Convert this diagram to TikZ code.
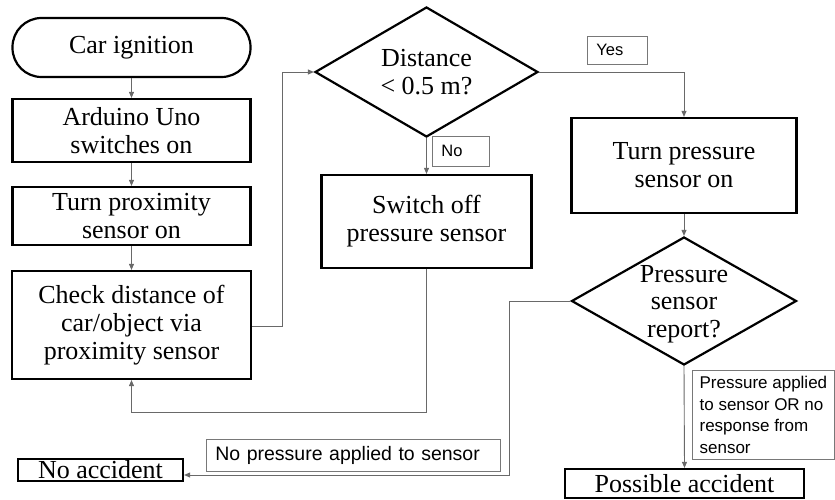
\documentclass[tikz,border=0pt]{standalone}
\usepackage{fontspec}
\setmainfont{Liberation Serif}
\newfontfamily\lblfont{Liberation Sans}
\usetikzlibrary{shapes.geometric,arrows.meta}
\definecolor{conn}{RGB}{105,105,105}
\definecolor{lbl}{RGB}{120,120,120}
\tikzset{
  proc/.style={draw=black, line width=2.2pt, rectangle, inner sep=0pt, align=center,
    font=\fontsize{26}{28}\selectfont},
  term/.style={proc, rounded corners=29pt},
  dia/.style={draw=black, line width=2.2pt, diamond, inner sep=0pt},
  diatext/.style={inner sep=0pt, align=center, font=\fontsize{26}{27.5}\selectfont},
  lab/.style={draw=lbl, line width=0.8pt, rectangle, inner xsep=9pt, inner ysep=0pt,
    align=left, anchor=north west},
  flow/.style={draw=conn, line width=0.9pt, -{Triangle[length=6pt,width=5pt]}},
  plain/.style={draw=conn, line width=0.9pt}
}
\begin{document}
\begin{tikzpicture}[x=1pt,y=-1pt]
\useasboundingbox (0,0) rectangle (835,500);
% left column
\node[term, minimum width=238pt, minimum height=59pt] (ign) at (131.5,47.5) {Car ignition};
\node[proc, minimum width=238pt, minimum height=63pt] (ard) at (131.5,130.5) {Arduino Uno\\switches on};
\node[proc, minimum width=238pt, minimum height=58pt] (prox) at (131.5,216) {Turn proximity\\sensor on};
\node[proc, minimum width=239pt, minimum height=108pt] (check) at (131.5,325) {Check distance of\\car/object via\\proximity sensor};
% decision 1
\node[dia, minimum width=223pt, minimum height=130pt] (d1) at (426.5,72) {};
\node[diatext] (d1t) at (d1.center) {Distance\\< 0.5 m?};
\node[proc, minimum width=210pt, minimum height=93pt] (off) at (426.5,221.5) {Switch off\\pressure sensor};
\node[proc, minimum width=225pt, minimum height=95pt] (tps) at (684,165.5) {Turn pressure\\sensor on};
% decision 2
\node[dia, minimum width=225pt, minimum height=128pt] (d2) at (684,301) {};
\node[diatext] (d2t) at ([yshift=-3pt]d2.center) {Pressure\\sensor\\report?};
% outcomes
\node[proc, minimum width=165pt, minimum height=22pt] (noacc) at (100.5,470) {No accident};
\node[proc, minimum width=239pt, minimum height=29pt] (pacc) at (684.5,483.5) {Possible accident};
% labels
\node[lab, font=\lblfont\fontsize{16.5}{20}\selectfont, text width=42pt, minimum height=28pt] (yes) at (587,36) {Yes};
\node[lab, font=\lblfont\fontsize{16.5}{20}\selectfont, text width=39pt, minimum height=30pt] (no) at (432,136) {No};
\node[lab, font=\lblfont\fontsize{19.5}{22}\selectfont, text width=276pt, minimum height=32pt] (nop) at (206,439) {No pressure applied to sensor};
\node[lab, font=\lblfont\fontsize{17}{21.7}\selectfont, inner xsep=0pt, minimum width=142pt, minimum height=89pt] (pap) at (692,370) {Pressure applied\\to sensor OR no\\response from\\sensor};
% helper coordinates
\coordinate (c1) at (282,326);
\coordinate (c2) at (426.5,412);
\coordinate (c3) at (509,475);
% connectors
\draw[flow] (ign.south) -- (ard.north);
\draw[flow] (ard.south) -- (prox.north);
\draw[flow] (prox.south) -- (check.north);
\draw[flow] (check.east |- c1) -- (c1) |- (d1.west);
\draw[flow] (d1.south) -- (off.north);
\draw[flow] (d1.east) -| (tps.north);
\draw[flow] (tps.south) -- (d2.north);
\draw[flow] (off.south) -- (c2) -| (check.south);
\draw[flow] (d2.west) -| (c3) -- (c3 -| noacc.east);
\draw[flow] (d2.south) -- (pacc.north);
\end{tikzpicture}
\end{document}
